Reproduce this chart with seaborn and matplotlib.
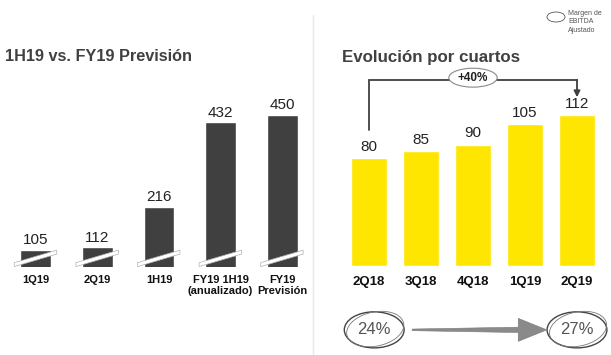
import matplotlib
matplotlib.use("Agg")
import matplotlib.pyplot as plt
import matplotlib.transforms as mtransforms
from matplotlib.patches import Ellipse, Polygon
from matplotlib.lines import Line2D
import seaborn as sns
import pandas as pd

sns.set_theme(style="white")
plt.rcParams['font.family'] = ['Liberation Sans', 'DejaVu Sans']

# data
left_cats = ["1Q19", "2Q19", "1H19", "FY19 1H19\n(anualizado)", "FY19\nPrevisión"]
left_vals = [105, 112, 216, 432, 450]
right_cats = ["2Q18", "3Q18", "4Q18", "1Q19", "2Q19"]
right_vals = [80, 85, 90, 105, 112]
growth_label = "+40%"
margin_start = "24%"
margin_end = "27%"

DARK = "#404040"
YELLOW = "#FFE600"
W, H = 611, 355

def box(x0, y0, x1, y1):
    # pixel box -> figure fraction
    return [x0 / W, 1 - y1 / H, (x1 - x0) / W, (y1 - y0) / H]

fig = plt.figure(figsize=(W / 100, H / 100), dpi=100)

# left panel
ax1 = fig.add_axes(box(5, 100, 313, 267))
df1 = pd.DataFrame({"cat": left_cats, "val": left_vals})
sns.barplot(data=df1, x="cat", y="val", color=DARK, saturation=1, width=0.5, ax=ax1)
ax1.set_xlim(-0.5, 4.5)
ax1.set_ylim(62, 489)
ax1.bar_label(ax1.containers[0], labels=[str(v) for v in left_vals], padding=2,
              fontsize=11, color="#222222")
# broken axis slashes
for i in range(len(left_vals)):
    pts = [(i - 0.35, 63), (i + 0.34, 95), (i + 0.34, 105), (i - 0.35, 73)]
    ax1.add_patch(Polygon(pts, closed=True, facecolor="white", edgecolor="#b0b0b0",
                          lw=0.5, zorder=3))

# right panel
ax2 = fig.add_axes(box(343, 60, 603, 266))
df2 = pd.DataFrame({"cat": right_cats, "val": right_vals})
sns.barplot(data=df2, x="cat", y="val", color=YELLOW, saturation=1, width=0.69, ax=ax2)
ax2.set_xlim(-0.5, 4.5)
ax2.set_ylim(0, 152.6)
ax2.bar_label(ax2.containers[0], labels=[str(v) for v in right_vals], padding=3,
              fontsize=11, color="#222222")

for ax, fs in ((ax1, 8), (ax2, 9.5)):
    for s in ax.spines.values():
        s.set_visible(False)
    ax.set_xlabel("")
    ax.set_ylabel("")
    ax.set_yticks([])
    ax.tick_params(axis="x", length=0)
    for t in ax.get_xticklabels():
        t.set_fontweight("bold")
        t.set_fontsize(fs)
        t.set_color("#111111")
ax1.tick_params(axis="x", pad=6)
ax2.tick_params(axis="x", pad=7)
for t in ax1.get_xticklabels():
    t.set_linespacing(1.05)

# bracket with growth
top = max(right_vals) + 26
ax2.plot([0, 0, 4], [right_vals[0] + 21, top, top], color=DARK, lw=1.3,
         solid_joinstyle="miter", clip_on=False)
ax2.annotate("", xy=(4, right_vals[-1] + 13), xytext=(4, top),
             arrowprops=dict(arrowstyle="-|>", color=DARK, lw=1.3, mutation_scale=9,
                             shrinkA=0, shrinkB=0))
ax2.add_patch(Ellipse((2, top + 1.5), 0.93, 14, facecolor="white", edgecolor="#8a8a8a",
                      lw=0.8, zorder=4, clip_on=False))
ax2.text(2, top + 1.5, growth_label, ha="center", va="center", fontsize=8.5,
         fontweight="bold", color="#222222", zorder=5)

# EBITDA margin circles and arrow
trans = mtransforms.blended_transform_factory(ax2.transData, ax2.transAxes)
yc = -0.31
for xi, lab in [(0.1, margin_start), (4.0, margin_end)]:
    ax2.add_patch(Ellipse((xi, yc), 1.15, 0.175, transform=trans, fill=False,
                          edgecolor="#444444", lw=1.0, clip_on=False))
    ax2.add_patch(Ellipse((xi + 0.02, yc + 0.004), 1.1, 0.168, angle=2, transform=trans,
                          fill=False, edgecolor="#777777", lw=0.6, clip_on=False))
    ax2.text(xi, yc, lab, transform=trans, ha="center", va="center", fontsize=12,
             color="#555555")
# tapered arrow between the two margins
arrow_pts = [(0.83, yc - 0.004), (2.87, yc - 0.013), (2.87, yc - 0.056), (3.42, yc),
             (2.87, yc + 0.056), (2.87, yc + 0.013), (0.83, yc + 0.004)]
ax2.add_patch(Polygon(arrow_pts, closed=True, transform=trans, facecolor="#8a8a8a",
                      edgecolor="#7a7a7a", lw=0.4, clip_on=False))

# titles
fig.text(5 / W, 1 - 61 / H, "1H19 vs. FY19 Previsión", fontsize=11.7, fontweight="bold",
         color=DARK, va="baseline")
fig.text(342 / W, 1 - 62 / H, "Evolución por cuartos", fontsize=12.2, fontweight="bold",
         color=DARK, va="baseline")

# legend
fig.add_artist(Ellipse((556 / W, 1 - 17 / H), 18 / W, 10 / H, transform=fig.transFigure,
                       fill=False, edgecolor="#555555", lw=0.6))
fig.text(568 / W, 1 - 10 / H, "Margen de\nEBITDA\nAjustado", fontsize=5, color="#555555",
         va="top", linespacing=1.25)

# separator
fig.add_artist(Line2D([313 / W, 313 / W], [1 - 15 / H, 0], transform=fig.transFigure,
                      color="#e8e8e8", lw=1))

fig.savefig("out.png", dpi=100)
